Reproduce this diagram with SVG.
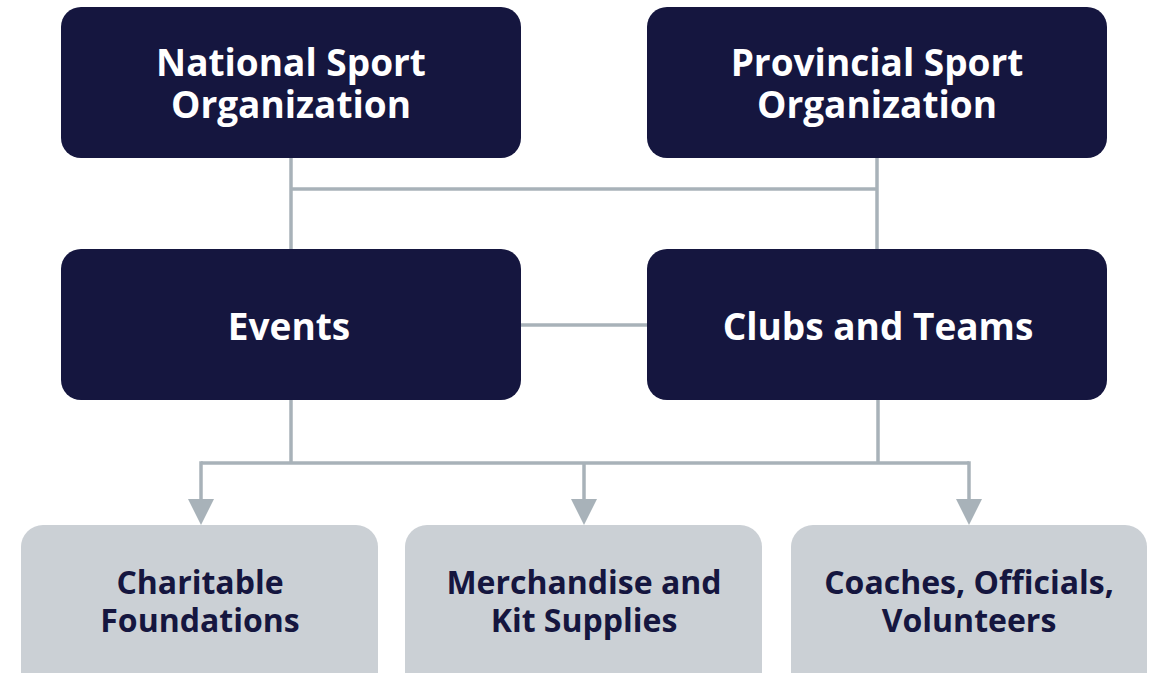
<svg xmlns="http://www.w3.org/2000/svg" width="1154" height="673" viewBox="0 0 1154 673">
<style>
.dark{fill:#15163f}
.light{fill:#cbd0d5}
.t1{font-family:"Open Sans","Noto Sans",sans-serif;font-weight:700;font-size:37px;fill:#ffffff;text-anchor:middle}
.t2{font-family:"Open Sans","Noto Sans",sans-serif;font-weight:700;font-size:32px;fill:#15163f;text-anchor:middle}
.ln{stroke:#a8b2b9;stroke-width:3.5;fill:none}
</style>
<rect width="1154" height="673" fill="#ffffff"/>
<g id="connectors">
<path class="ln" d="M291,158 V249"/>
<path class="ln" d="M877,158 V249"/>
<path class="ln" d="M291,189 H877"/>
<path class="ln" d="M521,325 H647"/>
<path class="ln" d="M291,400 V463"/>
<path class="ln" d="M878,400 V463"/>
<path class="ln" d="M201,463 H969"/>
<path class="ln" d="M201,461.25 V499"/>
<path class="ln" d="M584,463 V499"/>
<path class="ln" d="M969,461.25 V499"/>
<path d="M188,499 H214 L201,525 Z" fill="#a8b2b9"/>
<path d="M571,499 H597 L584,525 Z" fill="#a8b2b9"/>
<path d="M956,499 H982 L969,525 Z" fill="#a8b2b9"/>
</g>
<g id="nso">
<rect class="dark" x="61" y="7" width="460" height="151" rx="20"/>
<text class="t1" x="291" y="76">National Sport</text>
<text class="t1" x="291" y="118">Organization</text>
</g>
<g id="pso">
<rect class="dark" x="647" y="7" width="460" height="151" rx="20"/>
<text class="t1" x="877" y="76">Provincial Sport</text>
<text class="t1" x="877" y="118">Organization</text>
</g>
<g id="events">
<rect class="dark" x="61" y="249" width="460" height="151" rx="20"/>
<text class="t1" x="289" y="340">Events</text>
</g>
<g id="clubs">
<rect class="dark" x="647" y="249" width="460" height="151" rx="20"/>
<text class="t1" x="878" y="340">Clubs and Teams</text>
</g>
<g id="charitable">
<rect class="light" x="21" y="525" width="357" height="170" rx="22"/>
<text class="t2" x="200" y="594">Charitable</text>
<text class="t2" x="200" y="632">Foundations</text>
</g>
<g id="merch">
<rect class="light" x="405" y="525" width="357" height="170" rx="22"/>
<text class="t2" x="584" y="594">Merchandise and</text>
<text class="t2" x="584" y="632">Kit Supplies</text>
</g>
<g id="coaches">
<rect class="light" x="791" y="525" width="356" height="170" rx="22"/>
<text class="t2" x="969" y="594">Coaches, Officials,</text>
<text class="t2" x="969" y="632">Volunteers</text>
</g>
</svg>
